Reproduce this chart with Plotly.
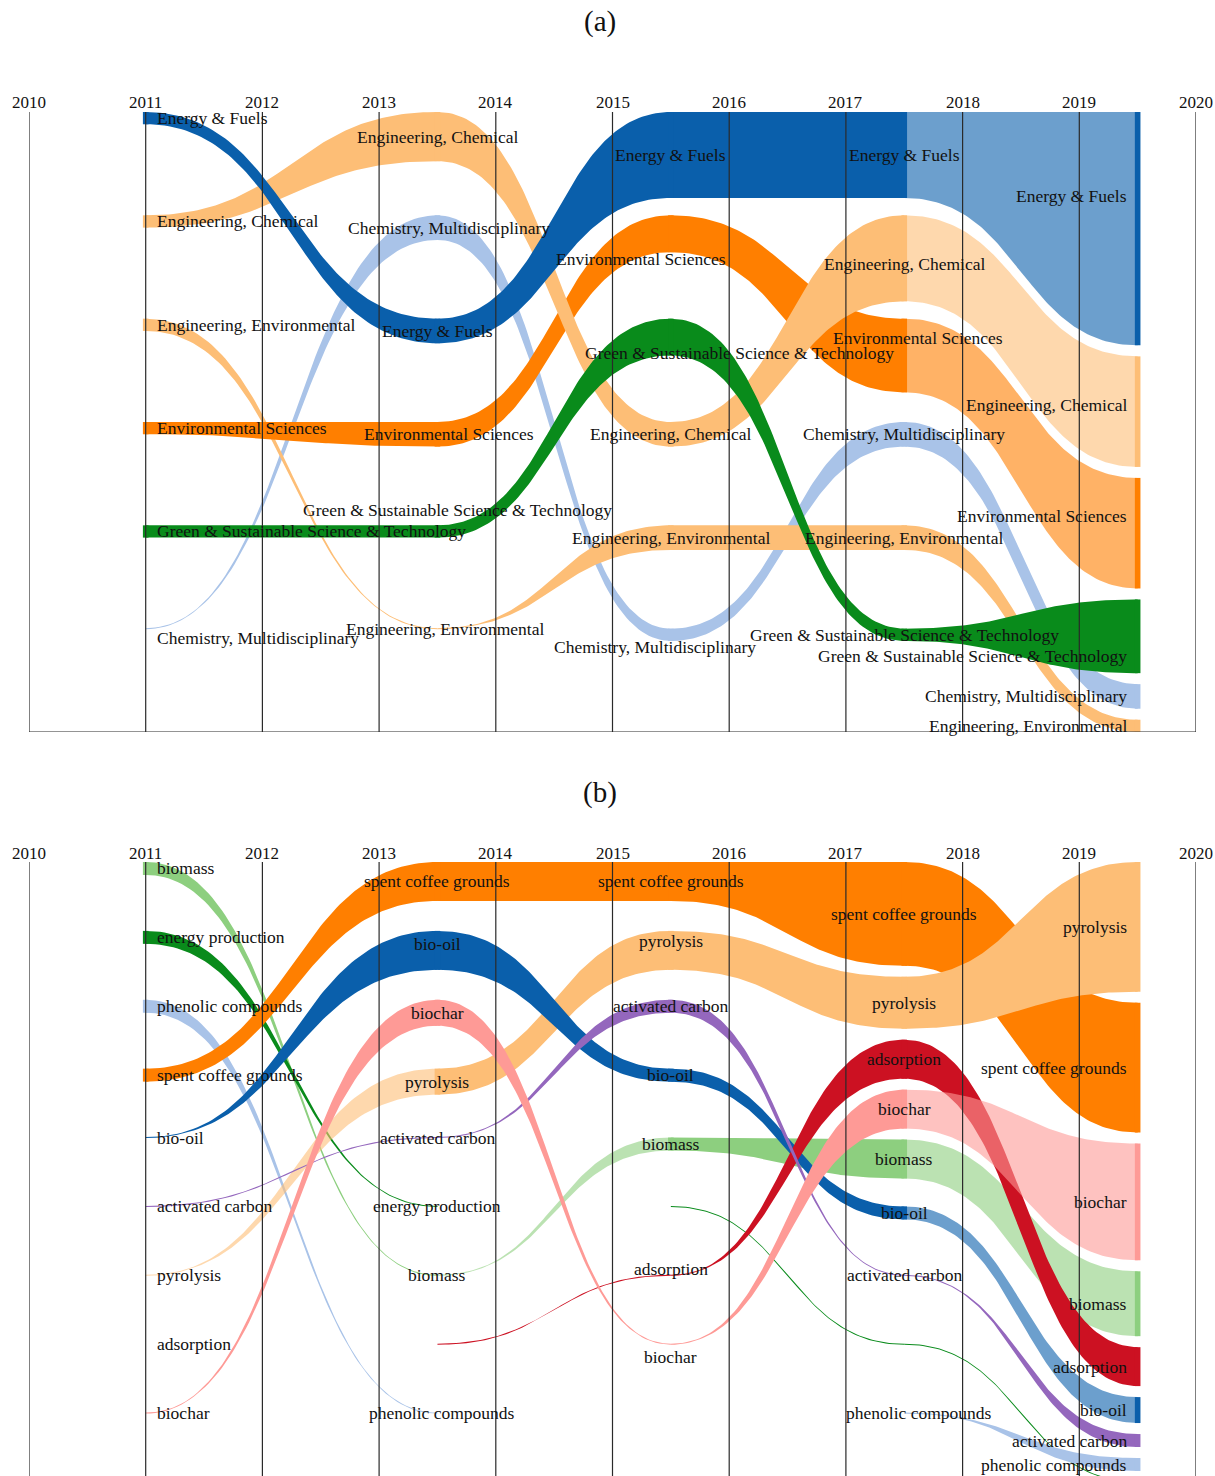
import numpy as np
import plotly.graph_objects as go

# ---------------- data ----------------
PERIODS = [2011, 2013.5, 2015.5, 2017.5, 2019.5]   # period mid-points (nodes)
YEAR_TICKS = list(range(2010, 2021))

# Panel (a): Web of Science categories, publication counts per period
A_CATS = ["Energy & Fuels", "Engineering, Chemical", "Engineering, Environmental",
          "Environmental Sciences", "Green & Sustainable Science & Technology",
          "Chemistry, Multidisciplinary"]
A_ENERGY = [1, 2, 7, 7, 19]
A_ENG_CHEM = [1, 4, 2, 7, 9]
A_ENG_ENV = [1, 0, 2, 2, 1]
A_ENV_SCI = [1, 2, 3, 6, 9]
A_GREEN = [1, 1, 3, 1, 6]
A_CHEM_MULTI = [0, 2, 1, 2, 2]
A_COUNTS = dict(zip(A_CATS, [A_ENERGY, A_ENG_CHEM, A_ENG_ENV, A_ENV_SCI, A_GREEN, A_CHEM_MULTI]))
E, EC, EE, ES, G, C = A_CATS
A_RANKING = [
    [E, EC, EE, ES, G, C],
    [EC, C, E, ES, G, EE],
    [E, ES, G, EC, EE, C],
    [E, EC, ES, C, EE, G],
    [E, EC, ES, G, C, EE],
]

# Panel (b): keywords, counts per period
B_CATS = ["biomass", "energy production", "phenolic compounds", "spent coffee grounds",
          "bio-oil", "activated carbon", "pyrolysis", "adsorption", "biochar"]
B_BIOMASS = [1, 0, 1, 3, 5]
B_ENERGY_PROD = [1, 0, 0, 0, 0]
B_PHENOLIC = [1, 0, 0, 0, 1]
B_SCG = [1, 3, 3, 8, 10]
B_BIO_OIL = [0, 3, 1, 1, 2]
B_ACT_CARBON = [0, 0, 1, 0, 1]
B_PYROLYSIS = [0, 2, 3, 4, 10]
B_ADSORPTION = [0, 0, 0, 3, 3]
B_BIOCHAR = [0, 2, 0, 3, 9]
B_COUNTS = dict(zip(B_CATS, [B_BIOMASS, B_ENERGY_PROD, B_PHENOLIC, B_SCG, B_BIO_OIL,
                             B_ACT_CARBON, B_PYROLYSIS, B_ADSORPTION, B_BIOCHAR]))
BM, EP, PC, SCG, BO, AC, PY, AD, BC = B_CATS
B_RANKING = [
    [BM, EP, PC, SCG, BO, AC, PY, AD, BC],
    [SCG, BO, BC, PY, AC, EP, BM, AD, PC],
    [SCG, PY, AC, BO, BM, EP, AD, BC, PC],
    [SCG, PY, AD, BC, BM, BO, AC, EP, PC],
    [PY, SCG, BC, BM, AD, BO, AC, PC, EP],
]

# ---------------- styling ----------------
A_COLORS = {E: "#0a5fab", EC: "#fdbe76", EE: "#fdbe76", ES: "#ff7f00", G: "#098b1b", C: "#a9c3e8"}
B_COLORS = {BM: "#8dcf7f", EP: "#098b1b", PC: "#a9c3e8", SCG: "#ff7f00", BO: "#0a5fab",
            AC: "#9467bd", PY: "#fdbe76", AD: "#cc1122", BC: "#fe9a96"}
# opacity of each ribbon segment (between consecutive periods)
A_FADE = {E: [1, 1, 1, .6], EC: [1, 1, 1, .6], ES: [1, 1, 1, .6]}
B_FADE = {BM: [1, .6, 1, .6], PY: [.6, 1, 1, 1], BO: [1, 1, 1, .6], BC: [1, 1, 1, .6]}
A_DRAW_ORDER = [C, EE, ES, EC, E, G]
B_DRAW_ORDER = [BM, EP, PC, SCG, PY, BO, AD, AC, BC]

A_NUDGE = {(C, 0): (0, 9), (C, 1): (12, 0), (ES, 1): (12, 0), (G, 1): (20, -21), (EE, 1): (8, 0),
           (ES, 2): (-30, 25), (G, 2): (69, 16), (C, 2): (-16, 12),
           (EC, 3): (0, 6), (ES, 3): (14, -18),
           (E, 4): (0, -33), (EC, 4): (0, -7), (ES, 4): (0, -17), (G, 4): (0, 20)}
B_NUDGE = {(BO, 1): (0, -6), (PC, 1): (5, 0), (PY, 2): (0, -9), (AD, 2): (0, -6),
           (BC, 2): (0, 13), (PC, 3): (15, 0)}
B_HIDDEN = {(AD, 1), (EP, 2), (PC, 2), (EP, 3), (EP, 4)}

FIG_W, FIG_H = 1215, 1476
X_LEFT_PX, X_RIGHT_PX = 29, 1196
PX_PER_YEAR = (X_RIGHT_PX - X_LEFT_PX) / 10.0
PANEL_H = 620.0
GAP = 11.0
A_TOP_PX, B_TOP_PX = 112, 862
FONT = "Liberation Serif, Times New Roman, serif"
LABEL_SIZE = 17.5

T = np.linspace(0, 1, 90)
U = 1.5 * T * (1 - T) + T ** 3
S = 3 * T ** 2 - 2 * T ** 3
MIN_THICK = 1.0
HALF_BAR = 2.8 / PX_PER_YEAR


def rgba(h, a):
    h = h.lstrip("#")
    return "rgba(%d,%d,%d,%s)" % (int(h[0:2], 16), int(h[2:4], 16), int(h[4:6], 16), a)


def node_layout(cats, counts, ranking):
    n = len(cats)
    slot = PANEL_H / n
    totals = [sum(counts[c][k] for c in cats) for k in range(len(PERIODS))]
    unit = (PANEL_H - (n - 1) * GAP) / max(totals)
    pos = {c: [None] * len(PERIODS) for c in cats}
    for k, order in enumerate(ranking):
        prev = None
        for r, c in enumerate(order):
            top = r * slot if prev is None else max(r * slot, prev + GAP)
            bot = top + counts[c][k] * unit
            pos[c][k] = (top, bot)
            prev = bot
    return pos


def widen(top, bot):
    mid = (top + bot) / 2.0
    th = np.maximum(bot - top, MIN_THICK)
    return mid - th / 2.0, mid + th / 2.0


fig = go.Figure()
annotations = []
shapes = []


def build_panel(cats, counts, ranking, colors, fades, draw_order, nudges, hidden, xa, ya):
    pos = node_layout(cats, counts, ranking)
    for c in draw_order:
        col = colors[c]
        fade = fades.get(c, [1, 1, 1, 1])
        for k in range(len(PERIODS) - 1):
            (a0, b0), (a1, b1) = pos[c][k], pos[c][k + 1]
            if counts[c][k] == 0 and counts[c][k + 1] == 0 and abs(a0 - a1) < 1e-6:
                continue
            xs = PERIODS[k] + (PERIODS[k + 1] - PERIODS[k]) * U
            top, bot = widen(a0 + (a1 - a0) * S, b0 + (b1 - b0) * S)
            fig.add_trace(go.Scatter(
                x=np.concatenate([xs, xs[::-1]]), y=np.concatenate([top, bot[::-1]]),
                mode="lines", fill="toself", fillcolor=rgba(col, fade[k]),
                line=dict(width=0), hoverinfo="skip", showlegend=False, xaxis=xa, yaxis=ya))
        for k, xk in enumerate(PERIODS):
            if counts[c][k] <= 0:
                continue
            a, b = pos[c][k]
            fig.add_trace(go.Scatter(
                x=[xk - HALF_BAR, xk + HALF_BAR, xk + HALF_BAR, xk - HALF_BAR, xk - HALF_BAR],
                y=[a, a, b, b, a], mode="lines", fill="toself", fillcolor=rgba(col, 1),
                line=dict(width=0), hoverinfo="skip", showlegend=False, xaxis=xa, yaxis=ya))
    last = len(PERIODS) - 1
    for c in cats:
        for k, xk in enumerate(PERIODS):
            if (c, k) in hidden:
                continue
            a, b = pos[c][k]
            dx, dy = nudges.get((c, k), (0, 0))
            if k == 0:
                anchor, base = "left", 9
            elif k == last:
                anchor, base = "right", -8.5
            else:
                anchor, base = "center", 0
            annotations.append(dict(
                x=xk, y=(a + b) / 2.0, xref=xa, yref=ya, text=c.replace("&", "&amp;"),
                showarrow=False, xanchor=anchor, yanchor="middle",
                xshift=base + dx, yshift=-dy,
                font=dict(family=FONT, size=LABEL_SIZE, color="#111")))
    for yr in YEAR_TICKS:
        shapes.append(dict(type="line", xref=xa, yref=ya, x0=yr, x1=yr, y0=0, y1=PANEL_H,
                           line=dict(color="#2a2a2a", width=1.2), layer="above"))
        annotations.append(dict(x=yr, y=0, xref=xa, yref=ya, text=str(yr), showarrow=False,
                                xanchor="center", yanchor="middle", yshift=9,
                                font=dict(family=FONT, size=17, color="#111")))
    shapes.append(dict(type="line", xref=xa, yref=ya, x0=YEAR_TICKS[0], x1=YEAR_TICKS[-1],
                       y0=PANEL_H, y1=PANEL_H, line=dict(color="#2a2a2a", width=1.2), layer="above"))


build_panel(A_CATS, A_COUNTS, A_RANKING, A_COLORS, A_FADE, A_DRAW_ORDER, A_NUDGE, set(), "x", "y")
build_panel(B_CATS, B_COUNTS, B_RANKING, B_COLORS, B_FADE, B_DRAW_ORDER, B_NUDGE, B_HIDDEN, "x2", "y2")

for txt, ypx in [("(a)", 21), ("(b)", 792)]:
    annotations.append(dict(x=600 / FIG_W, y=1 - ypx / FIG_H,
                            xref="paper", yref="paper", text=txt,
                            showarrow=False, xanchor="center", yanchor="middle",
                            font=dict(family=FONT, size=29, color="#111")))

xdom = [X_LEFT_PX / FIG_W, X_RIGHT_PX / FIG_W]
axis_off = dict(visible=False, showgrid=False, zeroline=False, fixedrange=True)
fig.update_layout(
    width=FIG_W, height=FIG_H, autosize=False,
    margin=dict(l=0, r=0, t=0, b=0),
    paper_bgcolor="white", plot_bgcolor="rgba(0,0,0,0)",
    showlegend=False,
    xaxis=dict(domain=xdom, range=[2010, 2020], anchor="y", **axis_off),
    yaxis=dict(domain=[1 - (A_TOP_PX + PANEL_H) / FIG_H, 1 - A_TOP_PX / FIG_H],
               range=[PANEL_H, 0], anchor="x", **axis_off),
    xaxis2=dict(domain=xdom, range=[2010, 2020], anchor="y2", **axis_off),
    yaxis2=dict(domain=[0, 1 - B_TOP_PX / FIG_H],
                range=[FIG_H - B_TOP_PX, 0], anchor="x2", **axis_off),
    annotations=annotations, shapes=shapes,
)

fig.write_html("out.html", config={"displayModeBar": False, "staticPlot": True},
               post_script="document.body.style.margin='0px';document.body.style.overflow='hidden';")
